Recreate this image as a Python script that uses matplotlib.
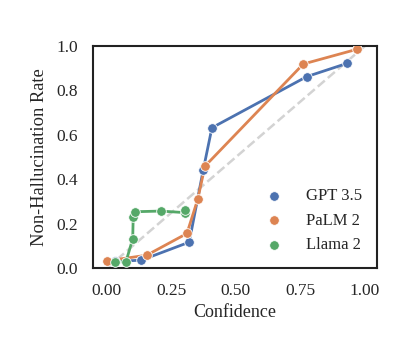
import matplotlib
matplotlib.use("Agg")
import matplotlib.pyplot as plt
import seaborn as sns

sns.set_theme(style="white")
plt.rcParams["font.family"] = ["Liberation Serif", "DejaVu Serif"]

gpt_conf = [0.03, 0.134, 0.319, 0.373, 0.407, 0.774, 0.931]
gpt_rate = [0.03, 0.036, 0.117, 0.44, 0.632, 0.862, 0.922]

palm_conf = [0.0, 0.154, 0.31, 0.352, 0.38, 0.761, 0.968]
palm_rate = [0.033, 0.058, 0.156, 0.31, 0.459, 0.919, 0.985]

llama_conf = [0.031, 0.074, 0.1, 0.102, 0.11, 0.209, 0.302, 0.302]
llama_rate = [0.029, 0.029, 0.132, 0.231, 0.254, 0.257, 0.25, 0.264]

series = [
    ("GPT 3.5", gpt_conf, gpt_rate),
    ("PaLM 2", palm_conf, palm_rate),
    ("Llama 2", llama_conf, llama_rate),
]

fig = plt.figure(figsize=(4.15, 3.46), dpi=100)
ax = fig.add_axes([0.224, 0.225, 0.684, 0.642])

ax.plot([0, 1], [0, 1], linestyle="--", color="lightgray", linewidth=1.8, zorder=1)

colors = sns.color_palette("deep")
for i, (name, xs, ys) in enumerate(series):
    ax.plot(xs, ys, color=colors[i], linewidth=2, zorder=2)
    ax.scatter(xs, ys, color=colors[i], s=48, edgecolor="white",
               linewidth=0.6, zorder=3, label=name)

ax.set_xlim(-0.054, 1.046)
ax.set_ylim(0, 1)
ax.set_xticks([0, 0.25, 0.5, 0.75, 1.0])
ax.set_xticklabels(["0.00", "0.25", "0.50", "0.75", "1.00"])
ax.set_yticks([0, 0.2, 0.4, 0.6, 0.8, 1.0])
ax.tick_params(labelsize=12.5, pad=5)
for s in ax.spines.values():
    s.set_color("#222222")
    s.set_linewidth(1.5)
ax.set_xlabel("Confidence", fontsize=13, labelpad=3)
ax.set_ylabel("Non-Hallucination Rate", fontsize=13.3, labelpad=6)
ax.legend(loc="lower right", frameon=False, fontsize=12, handletextpad=0.9,
          bbox_to_anchor=(1.0, 0.0))

plt.savefig("out.png")
